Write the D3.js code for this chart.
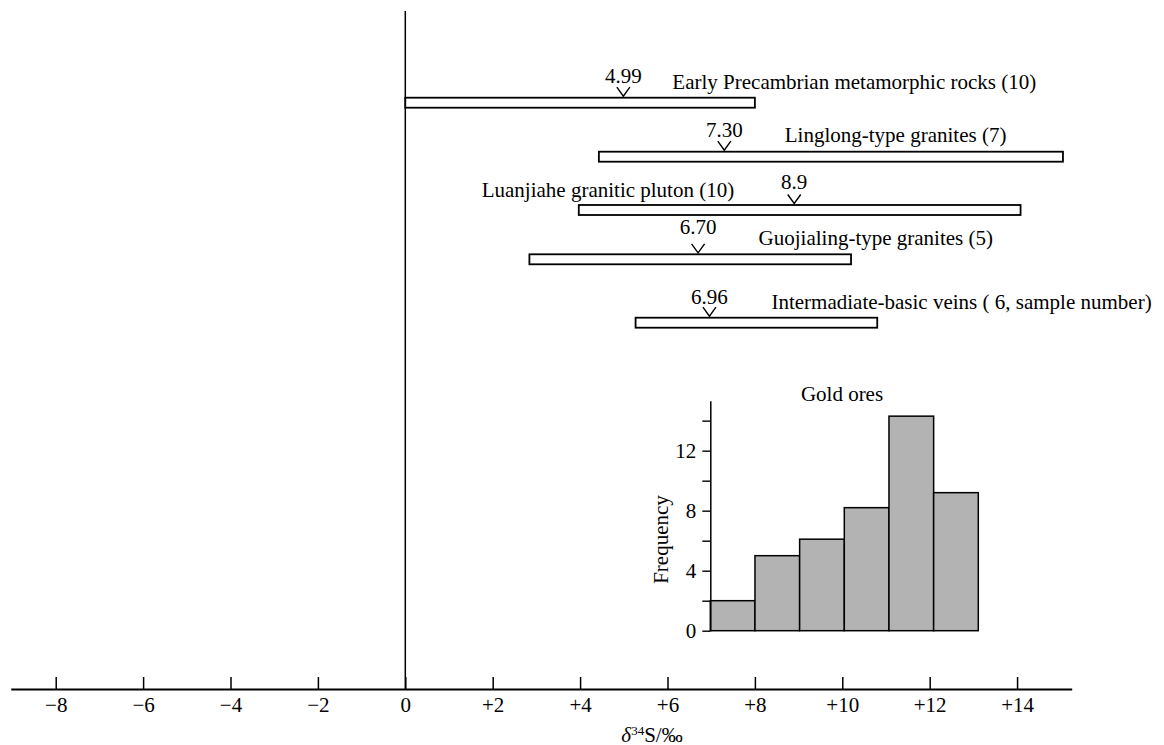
<!DOCTYPE html>
<html>
<head>
<meta charset="utf-8">
<script src="https://cdn.jsdelivr.net/npm/d3@7"></script>
<style>
  html, body { margin: 0; padding: 0; background: #fff; }
  svg { display: block; }
  text { font-family: "Liberation Serif", "Times New Roman", serif; fill: #000; }
</style>
</head>
<body>
<svg id="chart" width="1164" height="745"></svg>
<script>
// ---------- data ----------
const groups = [
  "Early Precambrian metamorphic rocks (10)",
  "Linglong-type granites (7)",
  "Luanjiahe granitic pluton (10)",
  "Guojialing-type granites (5)",
  "Intermadiate-basic veins ( 6, sample number)"
];
const rangeMin = [0, 4.43, 3.97, 2.84, 5.27];
const rangeMax = [8.0, 15.05, 14.08, 10.2, 10.8];
const meanValues = [4.99, 7.30, 8.9, 6.70, 6.96];
const meanLabels = ["4.99", "7.30", "8.9", "6.70", "6.96"];

const xTicks = [-8, -6, -4, -2, 0, 2, 4, 6, 8, 10, 12, 14];

const binStart = [7, 8, 9, 10, 11, 12];
const binEnd = [8, 9, 10, 11, 12, 13];
const frequency = [2, 5, 6.1, 8.2, 14.3, 9.2];
const freqTicks = [0, 2, 4, 6, 8, 10, 12, 14];
const freqLabels = [0, 4, 8, 12];

// ---------- layout ----------
const rowNudge = [0, -1, -2.7, -8.4, 0];
const valueDy = [-14.5, -14.5, -16.5, -20, -13.5];
const labelDy = [-8.5, -10, -8, -9, -8.5];
const labelDx = [49, 60.5, -60, 60.5, 62];
const labelAnchor = ["start", "start", "end", "start", "start"];

const svg = d3.select("#chart");
const FS = 21;

const x = d3.scaleLinear().domain([-9.03, 15.25]).range([10.7, 1071.7]);
const axisY = 689;

const rowY = d3.scalePoint().domain(groups).range([97.7, 317.7]);
const barH = 10;

// main vertical zero line
svg.append("line")
  .attr("x1", x(0)).attr("x2", x(0))
  .attr("y1", 11).attr("y2", axisY)
  .attr("stroke", "#000").attr("stroke-width", 1.5);

// main x axis
const fmt = v => v === 0 ? "0" : (v > 0 ? "+" + v : "\u2212" + Math.abs(v));
const gx = svg.append("g")
  .attr("transform", `translate(0,${axisY})`)
  .call(d3.axisBottom(x).tickValues(xTicks).tickFormat(fmt)
    .tickSizeInner(-12).tickSizeOuter(0).tickPadding(8.5));
gx.select(".domain").attr("stroke", "#000").attr("stroke-width", 2);
gx.selectAll(".tick line").attr("stroke", "#000").attr("stroke-width", 1.5);
gx.selectAll(".tick text").attr("font-size", FS)
  .attr("font-family", "'Liberation Serif', 'Times New Roman', serif").attr("fill", "#000");

// axis title
const title = svg.append("text")
  .attr("x", 652).attr("y", 741.5)
  .attr("text-anchor", "middle")
  .attr("font-size", FS);
title.append("tspan").attr("font-style", "italic").text("\u03B4");
title.append("tspan").attr("font-size", 13).attr("dy", -7).text("34");
title.append("tspan").attr("dy", 7).text("S/\u2030");

// range bars
const rows = groups.map((g, i) => ({
  name: g, lo: rangeMin[i], hi: rangeMax[i], mean: meanValues[i], ml: meanLabels[i],
  top: rowY(g) + rowNudge[i], i
}));

svg.append("g").selectAll("rect").data(rows).join("rect")
  .attr("x", d => x(d.lo))
  .attr("y", d => d.top)
  .attr("width", d => x(d.hi) - x(d.lo))
  .attr("height", barH)
  .attr("fill", "#fff")
  .attr("stroke", "#000")
  .attr("stroke-width", 1.8);

// V markers
svg.append("g").selectAll("path").data(rows).join("path")
  .attr("d", d => {
    const cx = x(d.mean), tip = d.top - 1.5;
    return `M${cx - 6.5},${tip - 9}L${cx},${tip}L${cx + 6.5},${tip - 9}`;
  })
  .attr("fill", "none").attr("stroke", "#000").attr("stroke-width", 1.4);

// mean value labels
svg.append("g").selectAll("text").data(rows).join("text")
  .attr("x", d => x(d.mean))
  .attr("y", d => d.top + valueDy[d.i])
  .attr("text-anchor", "middle")
  .attr("font-size", FS)
  .text(d => d.ml);

// group labels
svg.append("g").selectAll("text").data(rows).join("text")
  .attr("x", d => x(d.mean) + labelDx[d.i])
  .attr("y", d => d.top + labelDy[d.i])
  .attr("text-anchor", d => labelAnchor[d.i])
  .attr("font-size", FS)
  .text(d => d.name);

// ---------- histogram inset ----------
const hx = d3.scaleLinear().domain([7, 13]).range([710.3, 978.3]);
const hy = d3.scaleLinear().domain([0, 15.33]).range([630.7, 400.7]);

const bins = binStart.map((s, i) => ({ s, e: binEnd[i], f: frequency[i] }));
svg.append("g").selectAll("rect").data(bins).join("rect")
  .attr("x", d => hx(d.s))
  .attr("y", d => hy(d.f))
  .attr("width", d => hx(d.e) - hx(d.s))
  .attr("height", d => hy(0) - hy(d.f))
  .attr("fill", "#b3b3b3")
  .attr("stroke", "#000")
  .attr("stroke-width", 1.5);

const gy = svg.append("g")
  .attr("transform", `translate(${hx(7)},0)`)
  .call(d3.axisLeft(hy).tickValues(freqTicks)
    .tickFormat(v => freqLabels.includes(v) ? v : "")
    .tickSizeInner(8).tickSizeOuter(0).tickPadding(6));
gy.select(".domain").attr("stroke", "#000").attr("stroke-width", 1.5);
gy.selectAll(".tick line").attr("stroke", "#000").attr("stroke-width", 1.4);
gy.selectAll(".tick text").attr("font-size", FS)
  .attr("font-family", "'Liberation Serif', 'Times New Roman', serif").attr("fill", "#000");

svg.append("text")
  .attr("x", 842).attr("y", 400.5)
  .attr("text-anchor", "middle")
  .attr("font-size", FS)
  .text("Gold ores");

svg.append("text")
  .attr("transform", "translate(668.3,539.5) rotate(-90)")
  .attr("text-anchor", "middle")
  .attr("font-size", FS)
  .text("Frequency");
</script>
</body>
</html>
